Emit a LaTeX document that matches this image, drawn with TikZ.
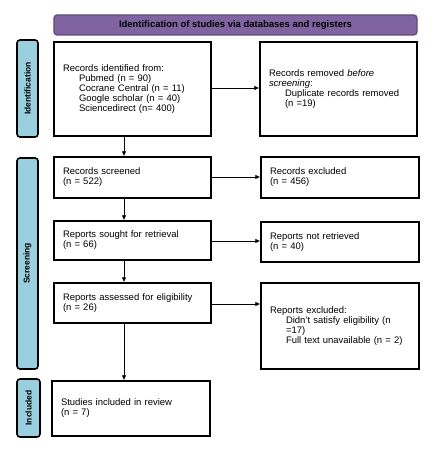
\documentclass[tikz,border=0pt]{standalone}
\usepackage{fontspec}
\setmainfont{Liberation Sans}
\usetikzlibrary{arrows.meta}
\definecolor{hdrfill}{HTML}{8064A2}
\definecolor{hdrline}{HTML}{5F4B80}
\definecolor{sidefill}{HTML}{9ACFE0}
\tikzset{
  flowbox/.style={draw=black, line width=1.4bp, fill=white, align=left,
    inner xsep=9bp, inner ysep=0bp, font=\fontsize{9.5}{10}\selectfont,
    minimum width=#1},
  sidebox/.style={draw=black, line width=1.6bp, fill=sidefill, rounded corners=3bp,
    minimum width=21bp, font=\bfseries\fontsize{8.5}{10}\selectfont},
  flowarrow/.style={-{Latex[length=5bp,width=4.5bp]}, line width=0.8bp},
}
\newcommand{\ind}{\hspace*{16bp}}
\begin{document}
\begin{tikzpicture}[x=1bp,y=-1bp]
\useasboundingbox (0,0) rectangle (433,456);
% header
\node[draw=hdrline, line width=1.2bp, fill=hdrfill, rounded corners=3bp,
  minimum width=363bp, minimum height=20bp, inner sep=0pt,
  font=\bfseries\fontsize{9.5}{10}\selectfont] (hdr) at (235.5,25)
  {Identification of studies via databases and registers};
% side labels
\node[sidebox, minimum height=97bp] (sidId) at (27.5,88.5) {\rotatebox{90}{Identification}};
\node[sidebox, minimum height=211bp] (sidSc) at (27.5,263.5) {\rotatebox{90}{Screening}};
\node[sidebox, minimum height=58bp, minimum width=23bp] (sidIn) at (28.5,408) {\rotatebox{90}{Included}};
% left column
\node[flowbox=157bp, text width=139bp, minimum height=94bp] (ident) at (132.5,89)
  {Records identified from:\\
   \ind Pubmed (n = 90)\\
   \ind Cocrane Central (n = 11)\\
   \ind Google scholar (n = 40)\\
   \ind Sciencedirect (n= 400)};
\node[flowbox=157bp, text width=139bp, minimum height=41bp] (screen) at (132.5,177.5)
  {Records screened\\(n = 522)};
\node[flowbox=157bp, text width=139bp, minimum height=39bp] (sought) at (132.5,240.5)
  {Reports sought for retrieval\\(n = 66)};
\node[flowbox=157bp, text width=139bp, minimum height=40bp] (assess) at (132.5,303)
  {Reports assessed for eligibility\\(n = 26)};
\node[flowbox=158bp, text width=140bp, minimum height=55bp] (incl) at (131,408.5)
  {Studies included in review\\(n = 7)};
% right column
\node[flowbox=157bp, text width=139bp, minimum height=94bp] (removed) at (338.5,89)
  {Records removed \textit{before}\\
   \textit{screening}:\\
   \ind Duplicate records removed\\
   \ind (n =19)\\[8bp]};
\node[flowbox=158bp, text width=140bp, minimum height=41bp] (excl) at (340,177.5)
  {Records excluded\\(n = 456)};
\node[flowbox=158bp, text width=140bp, minimum height=40bp] (notret) at (340,242)
  {Reports not retrieved\\(n = 40)};
\node[flowbox=158bp, text width=140bp, minimum height=86bp] (exrep) at (340,326)
  {Reports excluded:\\
   \ind Didn't satisfy eligibility (n\\
   \ind =17)\\
   \ind Full text unavailable (n = 2)};
% vertical arrows
\draw[flowarrow] (ident.south -| 124,0) -- (screen.north -| 124,0);
\draw[flowarrow] (screen.south -| 124,0) -- (sought.north -| 124,0);
\draw[flowarrow] (sought.south -| 124,0) -- (assess.north -| 124,0);
\draw[flowarrow] (assess.south -| 124,0) -- (incl.north -| 124,0);
% horizontal arrows
\draw[flowarrow] (ident.east |- 0,88) -- (removed.west |- 0,88);
\draw[flowarrow] (screen.east |- 0,177) -- (excl.west |- 0,177);
\draw[flowarrow] (sought.east |- 0,241) -- (notret.west |- 0,241);
\draw[flowarrow] (assess.east |- 0,304) -- (exrep.west |- 0,304);
\end{tikzpicture}
\end{document}
